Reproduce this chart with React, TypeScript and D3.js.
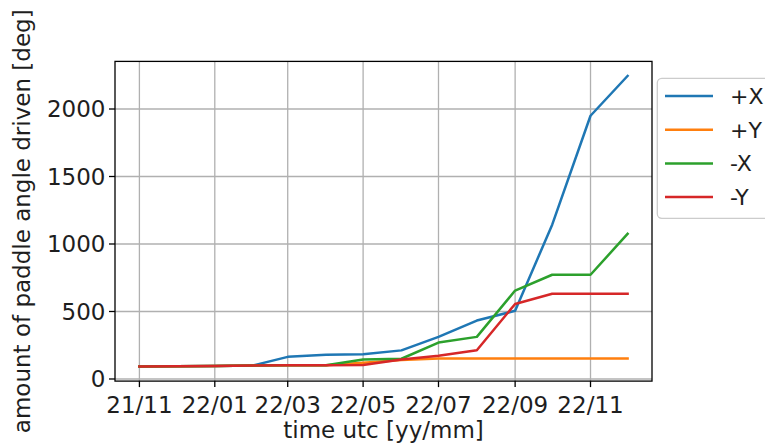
import React from "react";
import * as d3 from "d3";

const months = [
  "2021-11-01", "2021-12-01", "2022-01-01", "2022-02-01", "2022-03-01", "2022-04-01", "2022-05-01",
  "2022-06-01", "2022-07-01", "2022-08-01", "2022-09-01", "2022-10-01", "2022-11-01", "2022-12-01",
];
const plusX = [92, 95, 97, 100, 164, 180, 183, 212, 312, 433, 505, 1143, 1950, 2245];
const plusY = [92, 95, 97, 100, 101, 101, 120, 140, 152, 152, 152, 152, 152, 152];
const minusX = [92, 95, 97, 100, 101, 101, 145, 150, 270, 312, 655, 772, 772, 1075];
const minusY = [92, 95, 97, 100, 101, 101, 104, 145, 172, 213, 556, 632, 632, 632];

const seriesNames = ["+X", "+Y", "-X", "-Y"];
const seriesValues = [plusX, plusY, minusX, minusY];
const colors = ["#1f77b4", "#ff7f0e", "#2ca02c", "#d62728"];

const xTickDates = ["2021-11-01", "2022-01-01", "2022-03-01", "2022-05-01", "2022-07-01", "2022-09-01", "2022-11-01"];
const yTicks = [0, 500, 1000, 1500, 2000];

const xTitle = "time utc [yy/mm]";
const yTitle = "amount of paddle angle driven [deg]";

const W = 765, H = 447;
const left = 115, right = 652, top = 61.4, bottom = 381.1;
const FONT = "DejaVu Sans, sans-serif";
const FS = 23;
const TXT = "#1e1e1e";

export default function App() {
  const dates = months.map((m) => new Date(m + "T00:00:00Z"));
  const t0 = +dates[0], t1 = +dates[dates.length - 1];
  const xPad = (t1 - t0) * 0.05;
  const x = d3.scaleUtc().domain([new Date(t0 - xPad), new Date(t1 + xPad)]).range([left, right]);
  const all = seriesValues.flat();
  const vmin = d3.min(all)!, vmax = d3.max(all)!;
  const yPad = (vmax - vmin) * 0.05;
  const y = d3.scaleLinear().domain([vmin - yPad, vmax + yPad]).range([bottom, top]);
  const fmt = d3.utcFormat("%y/%m");
  const line = d3.line<number>().x((_, i) => x(dates[i])).y((v) => y(v));
  const xt = xTickDates.map((d) => new Date(d + "T00:00:00Z"));

  const lgX = 657.3, lgY = 78.3, lgH = 140, rowH = 33.7;

  return (
    <svg width={W} height={H} style={{ position: "absolute", left: 0, top: 0, background: "#fff" }} fontFamily={FONT}>
      <rect x={0} y={0} width={W} height={H} fill="#fff" />
      {/* grid */}
      {xt.map((d, i) => (
        <line key={"gx" + i} x1={x(d)} x2={x(d)} y1={top} y2={bottom} stroke="#b0b0b0" strokeWidth={1.3} />
      ))}
      {yTicks.map((v, i) => (
        <line key={"gy" + i} x1={left} x2={right} y1={y(v)} y2={y(v)} stroke="#b0b0b0" strokeWidth={1.3} />
      ))}
      {/* series */}
      {seriesValues.map((vals, i) => (
        <path key={"s" + i} d={line(vals) || ""} fill="none" stroke={colors[i]} strokeWidth={2.5} strokeLinejoin="round" strokeLinecap="square" />
      ))}
      {/* frame */}
      <rect x={left} y={top} width={right - left} height={bottom - top} fill="none" stroke="#000" strokeWidth={1.3} />
      {/* x ticks */}
      {xt.map((d, i) => (
        <g key={"xt" + i}>
          <line x1={x(d)} x2={x(d)} y1={bottom} y2={bottom + 6} stroke="#000" strokeWidth={1.3} />
          <text x={x(d)} y={413} textAnchor="middle" fontSize={FS} fill={TXT}>{fmt(d)}</text>
        </g>
      ))}
      {/* y ticks */}
      {yTicks.map((v, i) => (
        <g key={"yt" + i}>
          <line x1={left - 6} x2={left} y1={y(v)} y2={y(v)} stroke="#000" strokeWidth={1.3} />
          <text x={105.5} y={y(v) + 8.3} textAnchor="end" fontSize={FS} fill={TXT}>{v}</text>
        </g>
      ))}
      {/* axis titles */}
      <text x={(left + right) / 2} y={438} textAnchor="middle" fontSize={FS} fill={TXT}>{xTitle}</text>
      <text transform={`translate(30,${(top + bottom) / 2}) rotate(-90)`} textAnchor="middle" fontSize={FS} fill={TXT}>{yTitle}</text>
      {/* legend */}
      <rect x={lgX} y={lgY} width={130} height={lgH} rx={4.5} ry={4.5} fill="#fff" fillOpacity={0.8} stroke="#cccccc" strokeWidth={1.3} />
      {seriesNames.map((n, i) => {
        const cy = 96 + i * rowH;
        return (
          <g key={"lg" + i}>
            <line x1={665} x2={713} y1={cy} y2={cy} stroke={colors[i]} strokeWidth={2.5} />
            <text x={730} y={cy + 8} fontSize={22} fill={TXT}>{n}</text>
          </g>
        );
      })}
    </svg>
  );
}
